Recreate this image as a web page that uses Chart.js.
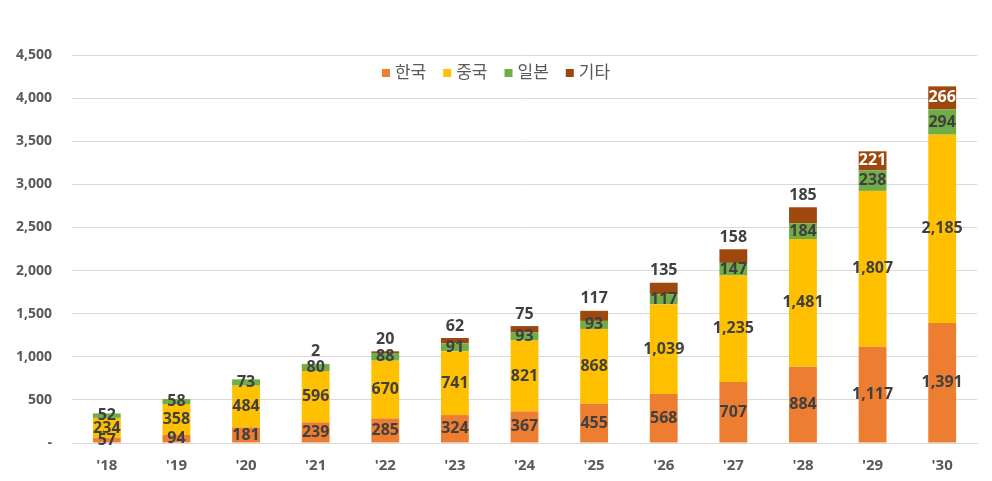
<!DOCTYPE html>
<html>
<head>
<meta charset="utf-8">
<script src="https://cdn.jsdelivr.net/npm/chart.js@4"></script>
<style>
  html, body { margin: 0; padding: 0; background: #fff; }
  #wrap { width: 992px; height: 481px; }
</style>
</head>
<body>
<div id="wrap"><canvas id="chart"></canvas></div>
<script>
// 연도별 데이터
const YEARS = ["'18", "'19", "'20", "'21", "'22", "'23", "'24", "'25", "'26", "'27", "'28", "'29", "'30"];
const KOREA = [57, 94, 181, 239, 285, 324, 367, 455, 568, 707, 884, 1117, 1391];
const CHINA = [234, 358, 484, 596, 670, 741, 821, 868, 1039, 1235, 1481, 1807, 2185];
const JAPAN = [52, 58, 73, 80, 88, 91, 93, 93, 117, 147, 184, 238, 294];
const OTHERS = [0, 0, 0, 2, 20, 62, 75, 117, 135, 158, 185, 221, 266];

const FONT = "'Open Sans', 'Noto Sans CJK KR', sans-serif";
const TEXT_COLOR = '#404040';

// 막대 위에 값 표시
const valueLabels = {
    id: 'valueLabels',
    afterDatasetsDraw(chart) {
        const ctx = chart.ctx;
        ctx.save();
        ctx.font = 'bold 16px ' + FONT;
        ctx.textAlign = 'center';
        ctx.textBaseline = 'middle';
        chart.data.datasets.forEach((ds, di) => {
            const meta = chart.getDatasetMeta(di);
            meta.data.forEach((bar, i) => {
                const v = ds.data[i];
                if (!v) return;
                const text = v.toLocaleString('en-US');
                let y = (bar.y + bar.base) / 2;
                ctx.fillStyle = TEXT_COLOR;
                if (di === 3) {
                    if (v < 200) {
                        y = bar.y - 12;
                    } else {
                        ctx.fillStyle = '#ffffff';
                    }
                }
                ctx.fillText(text, bar.x, y);
            });
        });
        ctx.restore();
    }
};

// 그래프 안쪽 위에 범례
const insideLegend = {
    id: 'insideLegend',
    afterDraw(chart) {
        const ctx = chart.ctx;
        const box = 8, gap = 5, spacing = 17;
        ctx.save();
        ctx.font = '17px ' + FONT;
        ctx.textBaseline = 'middle';
        const items = chart.data.datasets.map(ds => ({
            text: ds.label, color: ds.backgroundColor, w: ctx.measureText(ds.label).width
        }));
        let total = items.reduce((s, it) => s + box + gap + it.w, 0) + spacing * (items.length - 1);
        let x = chart.width / 2 - total / 2;
        const y = 73;
        items.forEach(it => {
            ctx.fillStyle = it.color;
            ctx.fillRect(x, y - box / 2, box, box);
            x += box + gap;
            ctx.fillStyle = '#595959';
            ctx.fillText(it.text, x, y);
            x += it.w + spacing;
        });
        ctx.restore();
    }
};

new Chart(document.getElementById('chart'), {
    type: 'bar',
    data: {
        labels: YEARS,
        datasets: [
            { label: '한국', data: KOREA, backgroundColor: '#ED7D31' },
            { label: '중국', data: CHINA, backgroundColor: '#FFC000' },
            { label: '일본', data: JAPAN, backgroundColor: '#70AD47' },
            { label: '기타', data: OTHERS, backgroundColor: '#9E480E' }
        ]
    },
    options: {
        responsive: true,
        maintainAspectRatio: false,
        animation: false,
        layout: { padding: { left: 0, right: 15, top: 55, bottom: 0 } },
        datasets: { bar: { categoryPercentage: 1, barPercentage: 0.4 } },
        plugins: {
            legend: { display: false },
            tooltip: { enabled: false }
        },
        scales: {
            x: {
                stacked: true,
                grid: { display: false },
                border: { color: '#d9d9d9' },
                ticks: { color: '#595959', font: { family: FONT, size: 15, weight: 'bold' }, padding: 6 }
            },
            y: {
                stacked: true,
                min: 0,
                max: 4500,
                afterFit: scale => { scale.width = 72; },
                grid: { color: '#d9d9d9', drawTicks: false },
                border: { display: false },
                ticks: {
                    stepSize: 500,
                    padding: 20,
                    color: '#595959',
                    font: { family: FONT, size: 14, weight: 'bold' },
                    callback: v => v === 0 ? '-' : v.toLocaleString('en-US')
                }
            }
        }
    },
    plugins: [valueLabels, insideLegend]
});
</script>
</body>
</html>
